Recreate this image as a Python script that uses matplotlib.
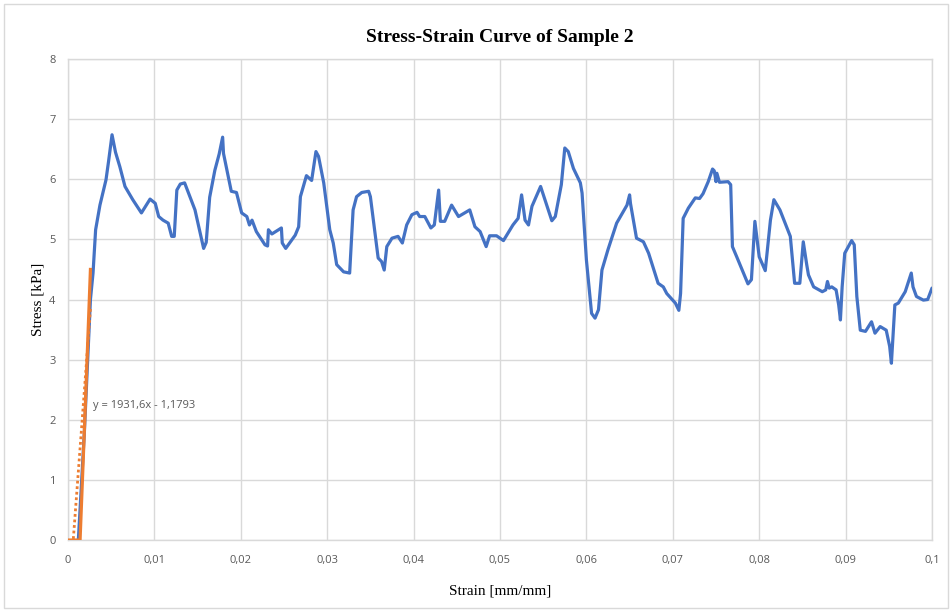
import matplotlib
matplotlib.use("Agg")
import matplotlib.pyplot as plt
from matplotlib.ticker import FuncFormatter, MultipleLocator
from matplotlib.patches import Rectangle

# Measured stress-strain response, sample 2
strain = [
    0.0012, 0.0019, 0.0026, 0.0029, 0.0032, 0.0037, 0.0044, 0.0047, 0.0051, 0.0055,
    0.0060, 0.0066, 0.0075, 0.0085, 0.0095, 0.0101, 0.0105, 0.0110, 0.0116, 0.0120,
    0.0123, 0.0126, 0.0130, 0.0135, 0.0147, 0.0157, 0.0160, 0.0164, 0.0170, 0.0175,
    0.0179, 0.0180, 0.0189, 0.0195, 0.0201, 0.0207, 0.0210, 0.0213, 0.0218, 0.0228,
    0.0231, 0.0232, 0.0236, 0.0247, 0.0248, 0.0252, 0.0263, 0.0267, 0.0269, 0.0276,
    0.0282, 0.0287, 0.0290, 0.0296, 0.0303, 0.0307, 0.0311, 0.0319, 0.0326, 0.0330,
    0.0334, 0.0340, 0.0348, 0.0350, 0.0359, 0.0363, 0.0366, 0.0369, 0.0375, 0.0382,
    0.0387, 0.0392, 0.0398, 0.0404, 0.0407, 0.0413, 0.0420, 0.0424, 0.0429, 0.0431,
    0.0436, 0.0444, 0.0452, 0.0465, 0.0471, 0.0477, 0.0484, 0.0488, 0.0496, 0.0504,
    0.0515, 0.0521, 0.0525, 0.0529, 0.0533, 0.0537, 0.0547, 0.0560, 0.0564, 0.0571,
    0.0575, 0.0579, 0.0585, 0.0593, 0.0595, 0.0600, 0.0606, 0.0610, 0.0614, 0.0618,
    0.0625, 0.0635, 0.0647, 0.0650, 0.0651, 0.0658, 0.0666, 0.0672, 0.0683, 0.0689,
    0.0693, 0.0703, 0.0707, 0.0709, 0.0712, 0.0718, 0.0726, 0.0731, 0.0735, 0.0741,
    0.0746, 0.0748, 0.0750, 0.0751, 0.0754, 0.0764, 0.0767, 0.0769, 0.0774, 0.0787,
    0.0791, 0.0795, 0.0800, 0.0807, 0.0813, 0.0817, 0.0824, 0.0836, 0.0841, 0.0847,
    0.0851, 0.0855, 0.0857, 0.0863, 0.0873, 0.0877, 0.0879, 0.0881, 0.0884, 0.0889,
    0.0892, 0.0894, 0.0896, 0.0899, 0.0907, 0.0910, 0.0913, 0.0917, 0.0923, 0.0930,
    0.0934, 0.0940, 0.0947, 0.0951, 0.0953, 0.0957, 0.0961, 0.0969, 0.0976, 0.0978,
    0.0982, 0.0990, 0.0995, 0.1000,
]
stress = [
    0.00, 1.80, 4.00, 4.44, 5.16, 5.57, 5.99, 6.30, 6.74, 6.45,
    6.21, 5.88, 5.66, 5.44, 5.67, 5.60, 5.38, 5.32, 5.27, 5.05,
    5.05, 5.82, 5.92, 5.94, 5.49, 4.85, 4.95, 5.70, 6.15, 6.42,
    6.70, 6.43, 5.80, 5.78, 5.44, 5.38, 5.24, 5.32, 5.13, 4.91,
    4.89, 5.16, 5.09, 5.19, 4.94, 4.85, 5.07, 5.21, 5.71, 6.06,
    5.98, 6.46, 6.38, 5.94, 5.16, 4.94, 4.58, 4.46, 4.44, 5.49,
    5.71, 5.78, 5.80, 5.71, 4.69, 4.63, 4.49, 4.88, 5.02, 5.05,
    4.94, 5.24, 5.41, 5.45, 5.38, 5.38, 5.19, 5.24, 5.82, 5.30,
    5.30, 5.57, 5.38, 5.49, 5.21, 5.13, 4.88, 5.06, 5.06, 4.98,
    5.24, 5.35, 5.74, 5.32, 5.24, 5.55, 5.88, 5.31, 5.38, 5.91,
    6.52, 6.46, 6.18, 5.94, 5.77, 4.66, 3.77, 3.69, 3.83, 4.49,
    4.83, 5.27, 5.57, 5.74, 5.60, 5.02, 4.96, 4.77, 4.27, 4.21,
    4.10, 3.94, 3.82, 4.10, 5.35, 5.52, 5.69, 5.68, 5.76, 5.96,
    6.17, 6.14, 5.96, 6.10, 5.95, 5.96, 5.91, 4.88, 4.71, 4.26,
    4.33, 5.30, 4.71, 4.48, 5.32, 5.66, 5.49, 5.05, 4.27, 4.27,
    4.96, 4.58, 4.41, 4.21, 4.13, 4.16, 4.30, 4.19, 4.21, 4.16,
    3.91, 3.66, 4.21, 4.77, 4.98, 4.91, 4.05, 3.49, 3.47, 3.63,
    3.44, 3.55, 3.49, 3.22, 2.94, 3.91, 3.94, 4.13, 4.44, 4.21,
    4.05, 3.99, 4.00, 4.19,
]

# Linear (elastic) portion used for the modulus fit
lin_strain = [0.0, 0.0014, 0.0020, 0.0026]
lin_stress = [0.0, 0.0, 2.2, 4.5]

# Trendline coefficients: y = slope * x + intercept
slope = 1931.6
intercept = -1.1793

blue = "#4472C4"
orange = "#ED7D31"
grid_c = "#D9D9D9"
text_c = "#595959"

fig = plt.figure(figsize=(9.52, 6.12), dpi=100)
ax = fig.add_axes([0.0714, 0.1176, 0.9076, 0.786])

ax.plot(strain, stress, color=blue, lw=2.3, solid_joinstyle="round",
        solid_capstyle="round", zorder=3)
ax.plot(lin_strain, lin_stress, color=orange, lw=2.3, zorder=4)

tx = [0.0, lin_strain[-1]]
ty = [slope * x + intercept for x in tx]
ax.plot(tx, ty, color=orange, lw=2.0, ls=(0, (1, 1)), zorder=4)

ax.text(0.0029, 2.23, "y = 1931,6x - 1,1793", color=text_c, fontsize=8,
        family="Open Sans", va="center", ha="left", zorder=5)

ax.set_xlim(0, 0.1)
ax.set_ylim(0, 8)
ax.xaxis.set_major_locator(MultipleLocator(0.01))
ax.yaxis.set_major_locator(MultipleLocator(1))
ax.xaxis.set_major_formatter(FuncFormatter(
    lambda v, p: "0" if abs(v) < 1e-12 else f"{v:.2f}".rstrip("0").replace(".", ",")))
ax.yaxis.set_major_formatter(FuncFormatter(lambda v, p: f"{v:.0f}"))

ax.grid(True, color=grid_c, lw=1.0, zorder=0)
for s in ax.spines.values():
    s.set_color(grid_c)
    s.set_linewidth(1.0)
ax.tick_params(length=0, labelsize=8, labelcolor=text_c)
ax.tick_params(axis="x", pad=11)
ax.tick_params(axis="y", pad=9)
for lab in ax.get_xticklabels() + ax.get_yticklabels():
    lab.set_family("Open Sans")

ax.set_title("Stress-Strain Curve of Sample 2", family="Liberation Serif",
             fontweight="bold", fontsize=14, pad=12)
ax.set_xlabel("Strain [mm/mm]", family="Liberation Serif", fontsize=11, labelpad=13)
ax.set_ylabel("Stress [kPa]", family="Liberation Serif", fontsize=11, labelpad=3)

# thin chart-area border
fig.patches.append(Rectangle((0.004, 0.006), 0.992, 0.988, transform=fig.transFigure,
                             fill=False, edgecolor=grid_c, lw=1.0))

fig.savefig("out.png", dpi=100)
